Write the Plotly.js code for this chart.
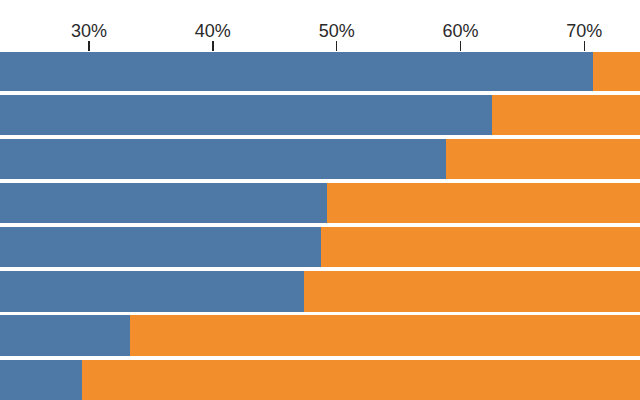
<!DOCTYPE html>
<html>
<head>
<meta charset="utf-8">
<script src="https://cdn.plot.ly/plotly-3.0.1.min.js"></script>
<style>html,body{margin:0;padding:0;background:#fff;}#chart{width:640px;height:400px;}</style>
</head>
<body>
<div id="chart"></div>
<script>
var rows = [0, 1, 2, 3, 4, 5, 6, 7];
var shareA = [70.7, 62.55, 58.8, 49.25, 48.75, 47.35, 33.3, 29.4];
var shareB = shareA.map(function (v) { return 100 - v; });
var tickVals = [30, 40, 50, 60, 70];
var tickText = ['30%', '40%', '50%', '60%', '70%'];

var traces = [
  {type: 'bar', orientation: 'h', y: rows, x: shareA, marker: {color: '#4e79a7'}, hoverinfo: 'none'},
  {type: 'bar', orientation: 'h', y: rows, x: shareB, marker: {color: '#f28e2b'}, hoverinfo: 'none'}
];

var layout = {
  width: 640, height: 400,
  margin: {l: 0, r: 0, t: 52, b: 0, pad: 0},
  paper_bgcolor: '#fff', plot_bgcolor: '#fff',
  barmode: 'stack', bargap: 0.0909,
  showlegend: false,
  xaxis: {
    side: 'top', range: [22.81, 74.5],
    tickvals: tickVals, ticktext: tickText,
    ticks: 'outside', ticklen: 10, tickwidth: 1.5, tickcolor: '#222',
    ticklabelstandoff: -3,
    showgrid: false, zeroline: false, showline: false,
    tickfont: {family: 'Liberation Sans, Arial, sans-serif', size: 18, color: '#2a2a2a'}
  },
  yaxis: {
    range: [7.466, -0.443], showticklabels: false, showgrid: false,
    zeroline: false, showline: false, ticks: ''
  }
};

Plotly.newPlot('chart', traces, layout, {staticPlot: true, displayModeBar: false});
</script>
</body>
</html>
